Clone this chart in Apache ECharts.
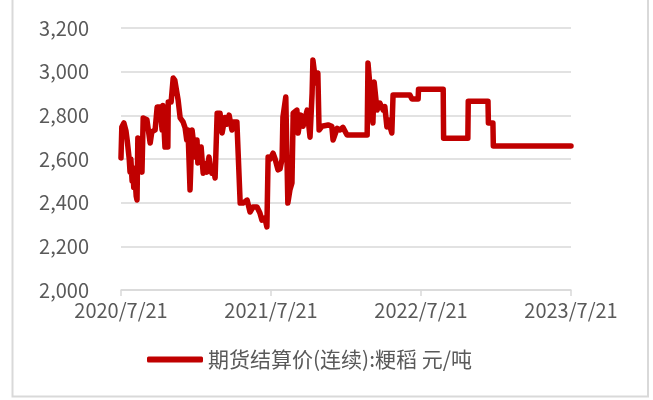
<!DOCTYPE html>
<html>
<head>
<meta charset="utf-8">
<script src="https://cdn.jsdelivr.net/npm/echarts@6/dist/echarts.min.js"></script>
<style>
html,body{margin:0;padding:0;background:#fff;}
#chart{width:653px;height:400px;}
</style>
</head>
<body>
<div id="chart"></div>
<script>
// ---- data ----
const seriesName = '期货结算价(连续):粳稻 元/吨';
const xTickLabels = ['2020/7/21', '2021/7/21', '2022/7/21', '2023/7/21'];
const yMin = 2000, yMax = 3200, yStep = 200;
const startDate = '2020-07-21';
const dates = [
  '2020-07-21','2020-07-23','2020-07-28','2020-08-02','2020-08-05','2020-08-10','2020-08-12','2020-08-14','2020-08-17','2020-08-19',
  '2020-08-21','2020-08-24','2020-08-27','2020-08-29','2020-08-31','2020-09-02','2020-09-05','2020-09-08','2020-09-10','2020-09-13',
  '2020-09-22','2020-09-30','2020-10-04','2020-10-12','2020-10-17','2020-10-24','2020-10-29','2020-10-31','2020-11-05','2020-11-12',
  '2020-11-13','2020-11-20','2020-11-25','2020-11-29','2020-12-07','2020-12-12','2020-12-19','2020-12-24','2020-12-28','2020-12-31',
  '2021-01-05','2021-01-10','2021-01-15','2021-01-17','2021-01-22','2021-01-24','2021-02-01','2021-02-04','2021-02-06','2021-02-10',
  '2021-02-15','2021-02-20','2021-02-24','2021-02-27','2021-03-03','2021-03-07','2021-03-12','2021-03-19','2021-03-24','2021-03-31',
  '2021-04-05','2021-04-10','2021-04-17','2021-04-20','2021-04-29','2021-05-07','2021-05-14','2021-05-24','2021-05-31','2021-06-07',
  '2021-06-17','2021-06-24','2021-06-29','2021-07-06','2021-07-11','2021-07-14','2021-07-19','2021-07-26','2021-07-31','2021-08-07',
  '2021-08-12','2021-08-17','2021-08-19','2021-08-26','2021-08-31','2021-09-05','2021-09-10','2021-09-13','2021-09-22','2021-09-25',
  '2021-10-02','2021-10-07','2021-10-17','2021-10-24','2021-10-29','2021-10-31','2021-11-07','2021-11-12','2021-11-15','2021-11-22',
  '2021-12-07','2021-12-16','2021-12-19','2021-12-29','2022-01-05','2022-01-12','2022-01-22','2022-03-12','2022-03-14','2022-03-19',
  '2022-03-26','2022-03-29','2022-04-05','2022-04-12','2022-04-20','2022-04-24','2022-04-29','2022-05-02','2022-05-11','2022-05-14',
  '2022-06-24','2022-06-29','2022-07-14','2022-07-15','2022-09-13','2022-09-14','2022-11-12','2022-11-13','2022-12-31','2023-01-01',
  '2023-01-12','2023-01-13','2023-07-21'
];
const prices = [
  2605,2747,2765,2730,2687,2600,2540,2600,2500,2560,
  2470,2520,2430,2412,2696,2600,2660,2560,2540,2788,
  2780,2673,2724,2733,2838,2838,2733,2845,2655,2655,
  2861,2861,2971,2960,2870,2788,2770,2742,2687,2733,
  2458,2733,2650,2609,2687,2582,2655,2580,2535,2580,
  2540,2609,2560,2535,2560,2513,2810,2810,2719,2790,
  2760,2801,2733,2770,2770,2398,2398,2412,2357,2380,
  2380,2353,2320,2330,2289,2609,2600,2627,2600,2550,
  2555,2600,2792,2884,2398,2458,2490,2810,2824,2719,
  2801,2750,2824,2700,2900,3053,2948,2994,2733,2750,
  2756,2750,2687,2740,2733,2745,2710,2710,3040,2930,
  2765,2953,2824,2856,2824,2840,2747,2780,2719,2893,
  2893,2875,2875,2920,2920,2695,2695,2865,2865,2765,
  2765,2660,2660
];
// ---- end data ----

const DAY = 86400000;
const t0 = Date.parse(startDate + 'T00:00:00Z');
const points = dates.map((d, i) => [Math.round((Date.parse(d + 'T00:00:00Z') - t0) / DAY), prices[i]]);

const txt = '#595959';
const gridCol = '#d9d9d9';
const font = '"Noto Sans CJK SC", "Noto Sans", sans-serif';

const chart = echarts.init(document.getElementById('chart'), null, {renderer: 'canvas'});
chart.setOption({
  animation: false,
  backgroundColor: '#fff',
  textStyle: {fontFamily: font},
  graphic: [{
    type: 'rect',
    shape: {x: 12.5, y: -5, width: 635.5, height: 401.5},
    style: {fill: 'none', stroke: gridCol, lineWidth: 2},
    silent: true, z: -10
  }],
  grid: {left: 121, right: 82, top: 28, bottom: 110, containLabel: false},
  legend: {
    data: [seriesName],
    bottom: 25,
    left: 142,
    icon: 'roundRect',
    itemWidth: 56,
    itemHeight: 6,
    itemGap: 10,
    textStyle: {color: txt, fontSize: 21, fontFamily: font}
  },
  xAxis: {
    type: 'value',
    min: 0,
    max: 365 * (xTickLabels.length - 1),
    interval: 365,
    axisLine: {show: true, lineStyle: {color: gridCol, width: 1.5}},
    axisTick: {show: true, length: 6, lineStyle: {color: gridCol, width: 1.5}},
    splitLine: {show: false},
    axisLabel: {
      color: txt, fontSize: 20, margin: 10, fontFamily: font,
      formatter: v => xTickLabels[Math.round(v / 365)] || ''
    }
  },
  yAxis: {
    type: 'value',
    min: yMin, max: yMax, interval: yStep,
    axisLine: {show: false},
    axisTick: {show: false},
    splitLine: {show: true, lineStyle: {color: gridCol, width: 1.5}},
    axisLabel: {
      color: txt, fontSize: 20, margin: 32, fontFamily: font,
      formatter: v => v.toLocaleString('en-US')
    }
  },
  series: [{
    name: seriesName,
    type: 'line',
    data: points,
    showSymbol: false,
    symbol: 'none',
    color: '#c00000',
    lineStyle: {color: '#c00000', width: 5.5, cap: 'round', join: 'round'}
  }]
});
</script>
</body>
</html>
